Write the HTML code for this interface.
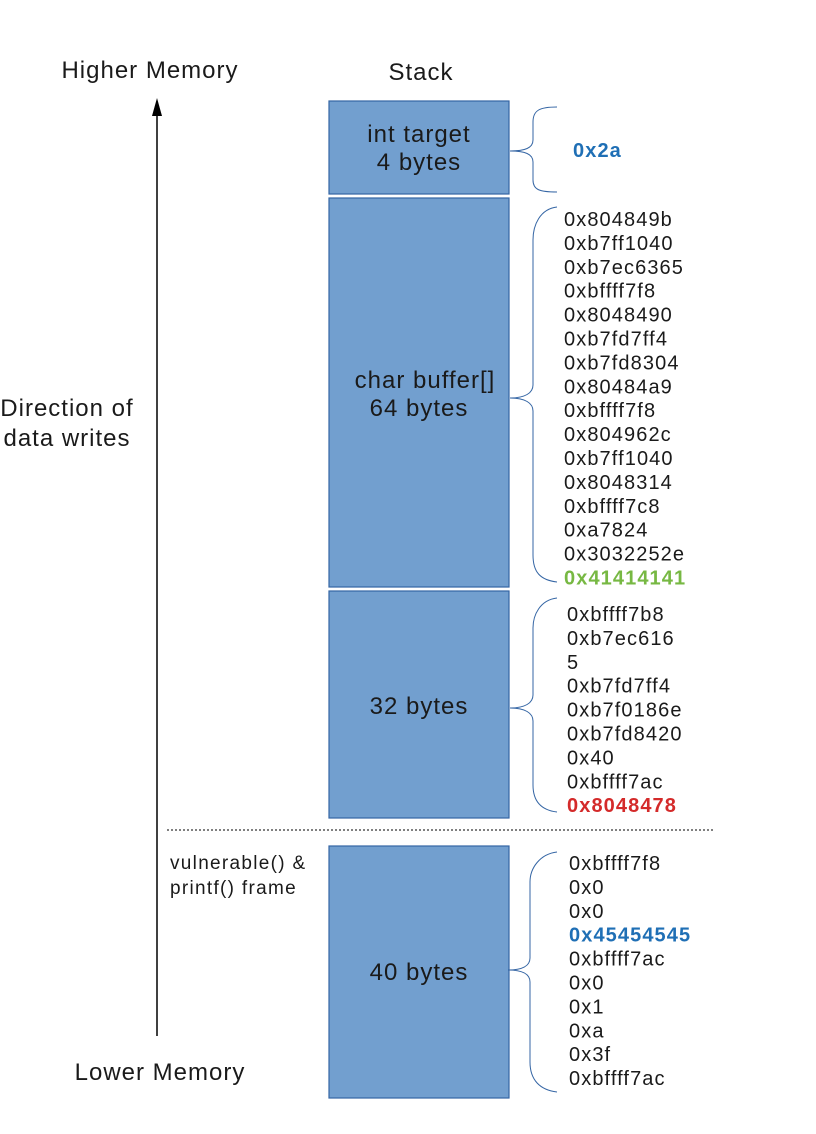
<!DOCTYPE html>
<html><head><meta charset="utf-8"><style>
html,body{margin:0;padding:0;background:#fff}
svg{display:block}
text{font-family:"Liberation Sans",sans-serif;fill:#1a1a1a}
.lbl{font-size:24px;letter-spacing:1px}
.hex{font-size:20px;letter-spacing:1.1px}
.box{fill:#729fcf;stroke:#3465a4;stroke-width:1.2}
.brace{fill:none;stroke:#3465a4;stroke-width:1}
</style></head><body>
<svg width="816" height="1134" viewBox="0 0 816 1134">
<text class="lbl" x="150" y="78" text-anchor="middle">Higher Memory</text>
<text class="lbl" x="421" y="80" text-anchor="middle">Stack</text>
<line x1="157" y1="1036" x2="157" y2="112" stroke="#000" stroke-width="1.5"/>
<polygon points="157,98 152,116 162,116" fill="#000"/>
<text class="lbl" x="67" y="416" text-anchor="middle">Direction of</text>
<text class="lbl" x="67" y="446" text-anchor="middle">data writes</text>
<text class="lbl" x="160" y="1080" text-anchor="middle">Lower Memory</text>
<line x1="167" y1="830" x2="715" y2="830" stroke="#000" stroke-width="1" stroke-dasharray="2,2"/>
<text x="170" y="869" style="font-size:19px;letter-spacing:1.3px">vulnerable() &amp;</text>
<text x="170" y="894" style="font-size:19px;letter-spacing:1.3px">printf() frame</text>

<rect class="box" x="329" y="101" width="180" height="93"/>
<text class="lbl" x="419" y="142" text-anchor="middle">int target</text>
<text class="lbl" x="419" y="170" text-anchor="middle">4 bytes</text>
<rect class="box" x="329" y="198" width="180" height="389"/>
<text class="lbl" x="425" y="388" text-anchor="middle">char buffer[]</text>
<text class="lbl" x="419" y="416" text-anchor="middle">64 bytes</text>
<rect class="box" x="329" y="591" width="180" height="227"/>
<text class="lbl" x="419" y="714" text-anchor="middle">32 bytes</text>
<rect class="box" x="329" y="846" width="180" height="252"/>
<text class="lbl" x="419" y="980" text-anchor="middle">40 bytes</text>

<path class="brace" d="M557,107 C540,107 533,110 533,122 L533,140 C533,148 525,151 510,151 C525,151 533,154 533,162 L533,180 C533,190 540,192 557,192"/>
<path class="brace" d="M557,207 C540,209 533,225 533,240 L533,385 C533,393 525,398 510,398 C525,398 533,403 533,411 L533,555 C533,572 540,580 557,582"/>
<path class="brace" d="M557,598 C540,600 533,615 533,628 L533,695 C533,703 525,708 510,708 C525,708 533,713 533,721 L533,785 C533,800 540,810 557,812"/>
<path class="brace" d="M557,852 C540,854 530,868 530,882 L530,958 C530,966 522,970 508,970 C522,970 530,974 530,982 L530,1062 C530,1080 540,1090 557,1092"/>

<text class="hex" x="573" y="157" style="fill:#1f6fb5;font-weight:bold">0x2a</text>
<g id="g1"></g>
</svg>
<script>
const bufferValues=["0x804849b","0xb7ff1040","0xb7ec6365","0xbffff7f8","0x8048490","0xb7fd7ff4","0xb7fd8304","0x80484a9","0xbffff7f8","0x804962c","0xb7ff1040","0x8048314","0xbffff7c8","0xa7824","0x3032252e","0x41414141"];
const pad32Values=["0xbffff7b8","0xb7ec616","5","0xb7fd7ff4","0xb7f0186e","0xb7fd8420","0x40","0xbffff7ac","0x8048478"];
const frame40Values=["0xbffff7f8","0x0","0x0","0x45454545","0xbffff7ac","0x0","0x1","0xa","0x3f","0xbffff7ac"];
const highlights={"buffer-15":"#77b843","pad-8":"#d42a2a","frame-3":"#1f6fb5"};
const g=document.getElementById('g1');
function col(arr,x,y0,key){
  arr.forEach((v,i)=>{
    const t=document.createElementNS('http://www.w3.org/2000/svg','text');
    t.setAttribute('class','hex');
    t.setAttribute('x',x);t.setAttribute('y',y0+i*23.9);
    
    
    const h=highlights[key+'-'+i];
    if(h){t.style.fill=h;t.style.fontWeight='bold';}
    t.textContent=v;g.appendChild(t);
  });
}
col(bufferValues,564,226,'buffer');
col(pad32Values,567,621,'pad');
col(frame40Values,569,870,'frame');
</script>
</body></html>
